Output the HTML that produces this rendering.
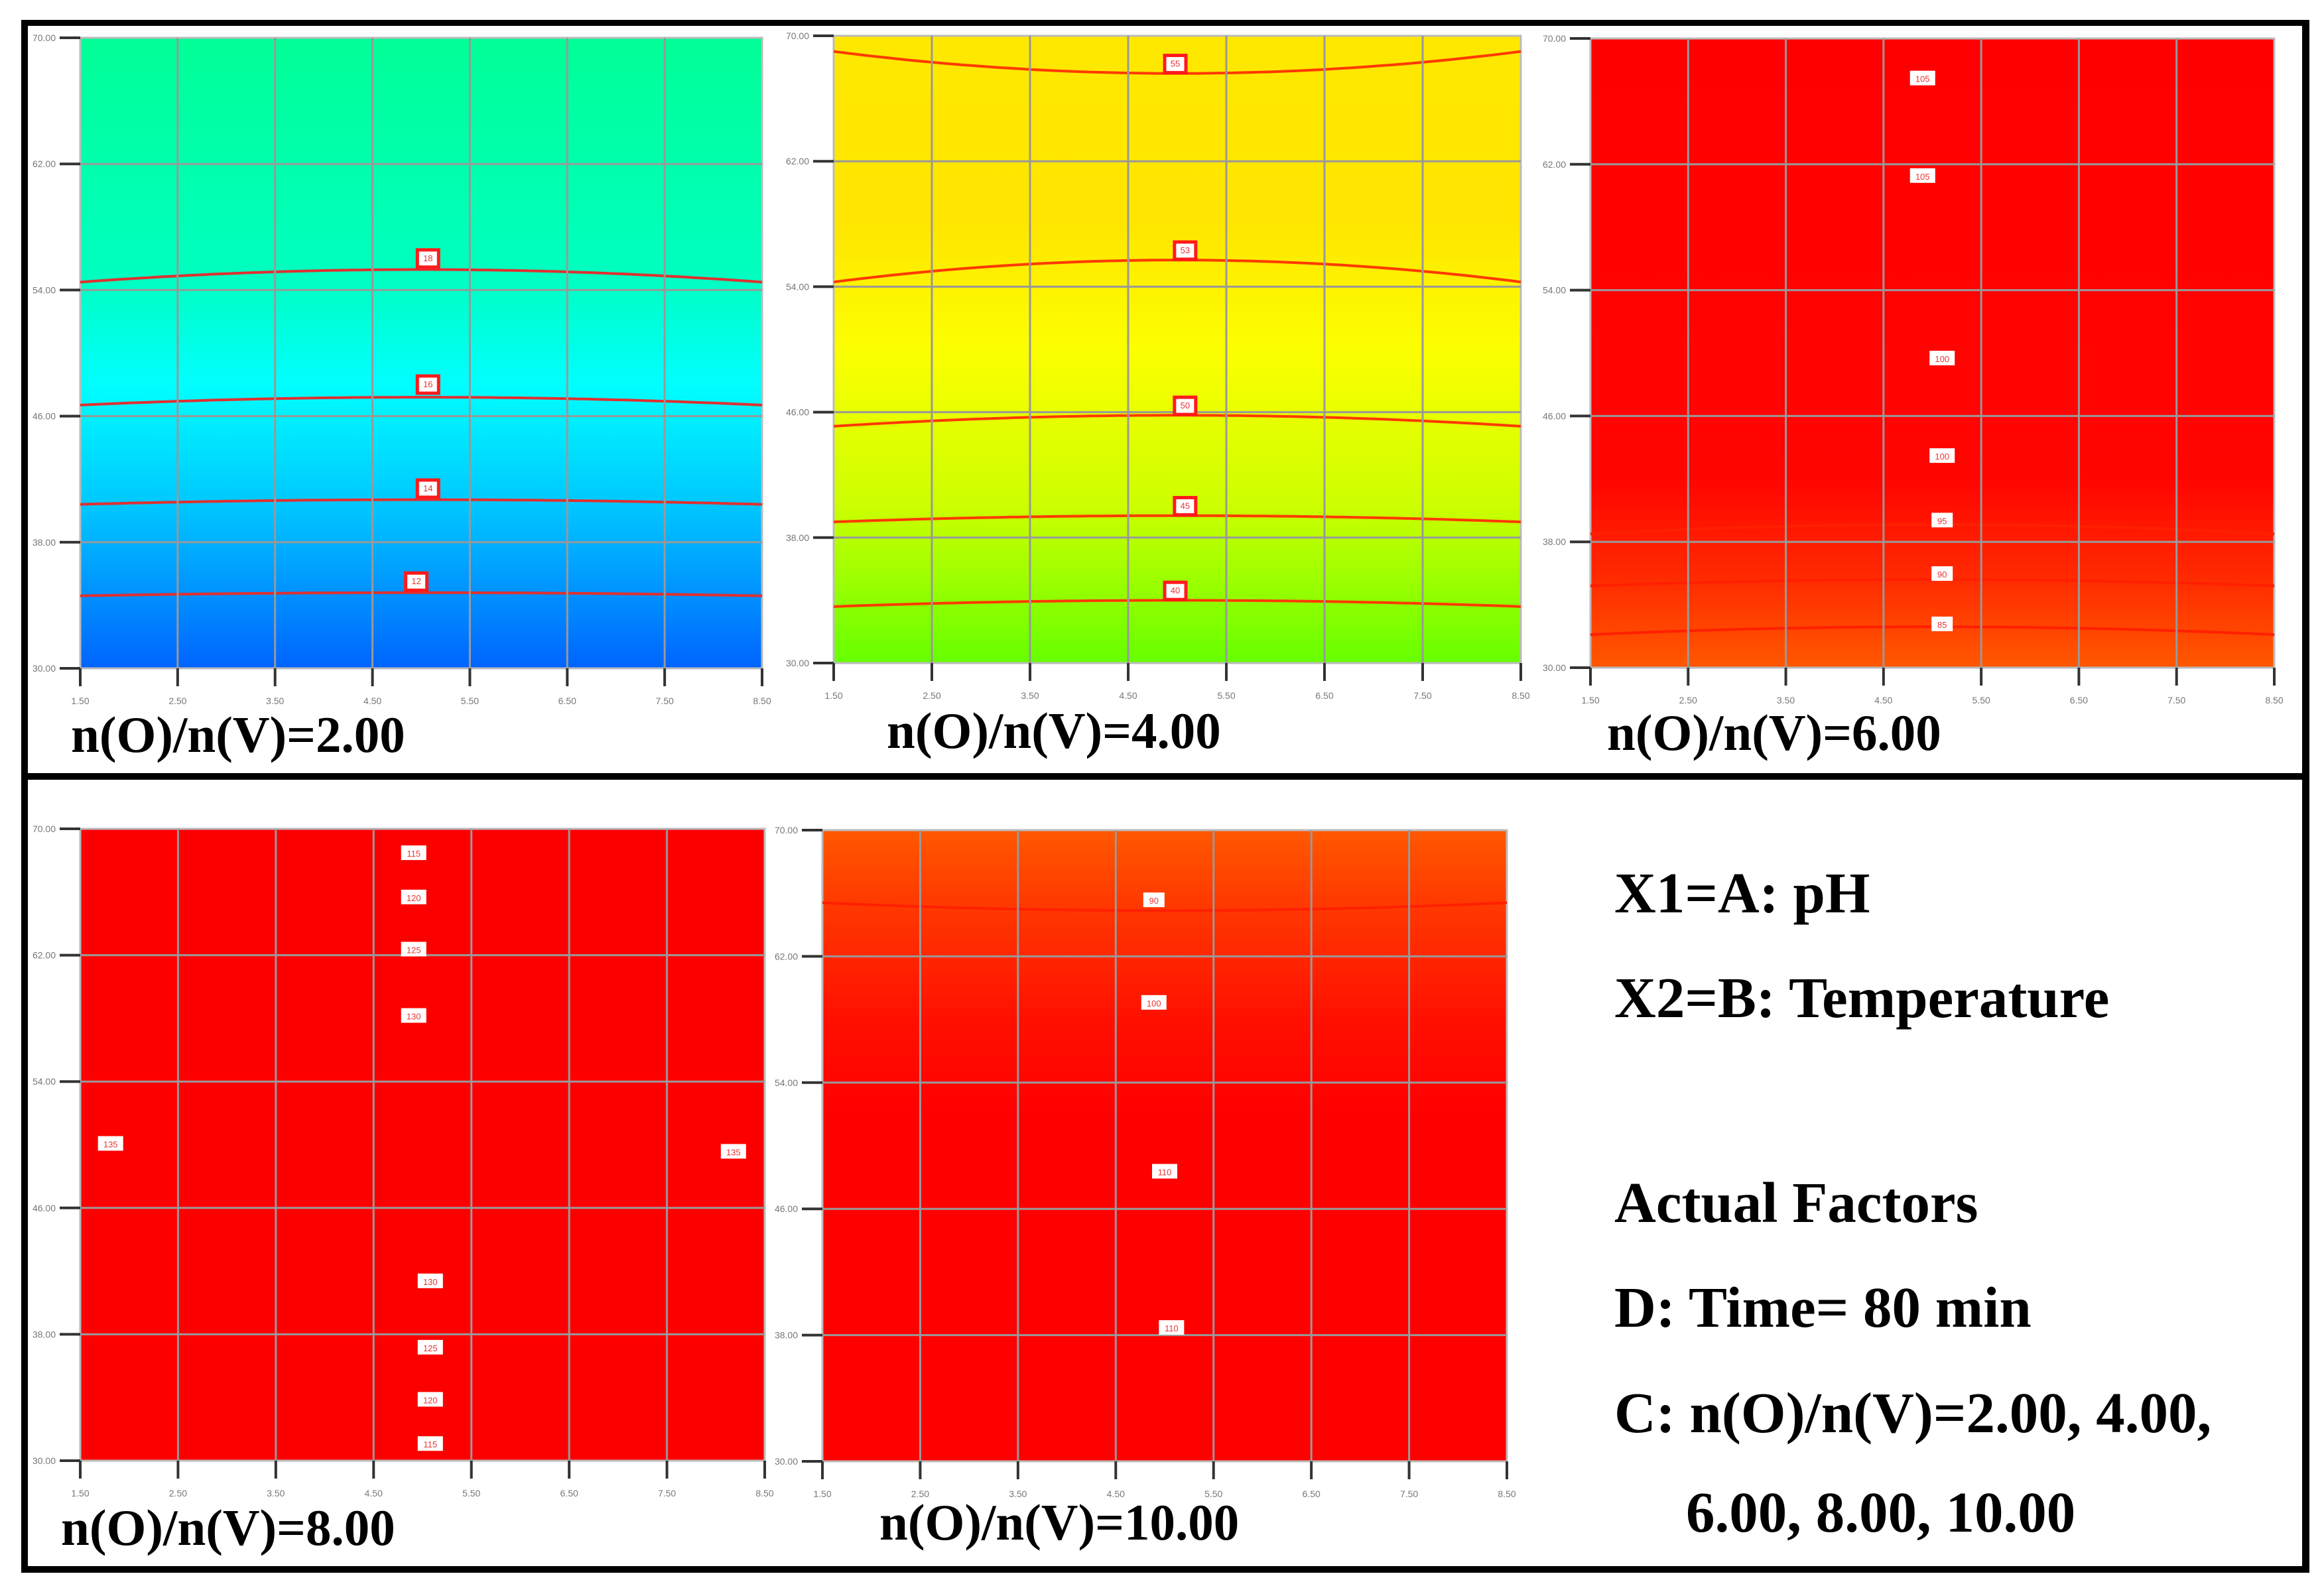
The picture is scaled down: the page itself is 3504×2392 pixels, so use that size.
<!DOCTYPE html>
<html>
<head>
<meta charset="utf-8">
<style>
html,body{margin:0;padding:0;background:#fff;}
svg{display:block;}
.ttl{font-family:"Liberation Serif",serif;font-weight:bold;fill:#000;}
.tk{font-family:"Liberation Sans",sans-serif;fill:#777;font-size:14px;}
.cl{font-family:"Liberation Sans",sans-serif;font-size:13px;}
</style>
</head>
<body>
<svg id="fig" width="3504" height="2392" viewBox="0 0 3504 2392" xmlns="http://www.w3.org/2000/svg">
<defs>
<linearGradient id="g1" x1="0" y1="0" x2="0" y2="1">
<stop offset="0" stop-color="#00ff96"/><stop offset="0.38" stop-color="#00ffc0"/><stop offset="0.55" stop-color="#00ffff"/><stop offset="0.75" stop-color="#00c4ff"/><stop offset="1" stop-color="#0064ff"/>
</linearGradient>
<linearGradient id="g2" x1="0" y1="0" x2="0" y2="1">
<stop offset="0" stop-color="#ffe800"/><stop offset="0.3" stop-color="#ffe600"/><stop offset="0.5" stop-color="#fcff00"/><stop offset="0.75" stop-color="#ccff00"/><stop offset="1" stop-color="#66ff00"/>
</linearGradient>
<linearGradient id="g3" x1="0" y1="0" x2="0" y2="1">
<stop offset="0" stop-color="#ff0000"/><stop offset="0.7" stop-color="#ff0500"/><stop offset="0.85" stop-color="#ff2800"/><stop offset="1" stop-color="#ff5800"/>
</linearGradient>
<linearGradient id="g4" x1="0" y1="0" x2="0" y2="1">
<stop offset="0" stop-color="#fc0000"/><stop offset="1" stop-color="#fc0000"/>
</linearGradient>
<linearGradient id="g5" x1="0" y1="0" x2="0" y2="1">
<stop offset="0" stop-color="#ff5800"/><stop offset="0.12" stop-color="#ff3800"/><stop offset="0.3" stop-color="#ff1000"/><stop offset="0.45" stop-color="#ff0000"/><stop offset="1" stop-color="#fd0000"/>
</linearGradient>
</defs>
<g id="frame">
<rect x="32" y="30" width="3450" height="9" fill="#000"/>
<rect x="32" y="30" width="10" height="2342" fill="#000"/>
<rect x="3471" y="30" width="11" height="2342" fill="#000"/>
<rect x="32" y="1166" width="3450" height="10" fill="#000"/>
<rect x="32" y="2362" width="3450" height="10" fill="#000"/>
</g>
<g id="panels"></g>
<g id="legend">
<text class="ttl" x="2434" y="1376" font-size="87">X1=A: pH</text>
<text class="ttl" x="2434" y="1534" font-size="87">X2=B: Temperature</text>
<text class="ttl" x="2434" y="1843" font-size="87">Actual Factors</text>
<text class="ttl" x="2434" y="2001" font-size="87">D: Time= 80 min</text>
<text class="ttl" x="2434" y="2160" font-size="87">C: n(O)/n(V)=2.00, 4.00,</text>
<text class="ttl" x="2542" y="2310" font-size="87">6.00, 8.00, 10.00</text>
</g>
</svg>
<script>
// Axis data
const xTicks = [1.5, 2.5, 3.5, 4.5, 5.5, 6.5, 7.5, 8.5];
const xTickLabels = ["1.50","2.50","3.50","4.50","5.50","6.50","7.50","8.50"];
const yTicks = [30, 38, 46, 54, 62, 70];
const yTickLabels = ["30.00","38.00","46.00","54.00","62.00","70.00"];
const panelTitles = ["n(O)/n(V)=2.00","n(O)/n(V)=4.00","n(O)/n(V)=6.00","n(O)/n(V)=8.00","n(O)/n(V)=10.00"];
// Contour lines: temperature at pH centre (5.0) and at pH edges
const c1Center = [55.3, 47.2, 40.7, 34.8];
const c1Edge = [54.5, 46.7, 40.4, 34.6];
const c2Center = [67.6, 55.7, 45.8, 39.4, 34.0];
const c2Edge = [69.0, 54.3, 45.1, 39.0, 33.6];
const c3Center = [39.1, 35.6, 32.6];
const c3Edge = [38.5, 35.2, 32.1];
const c4Center = [];
const c4Edge = [];
const c5Center = [64.9];
const c5Edge = [65.4];
// Contour value labels: text, pH, temperature
const l1Text = ["18","16","14","12"];
const l1X = [5.07, 5.07, 5.07, 4.95];
const l1Y = [56.0, 48.0, 41.4, 35.5];
const l2Text = ["55","53","50","45","40"];
const l2X = [4.98, 5.08, 5.08, 5.08, 4.98];
const l2Y = [68.2, 56.3, 46.4, 40.0, 34.6];
const l3Text = ["105","105","100","100","95","90","85"];
const l3X = [4.9, 4.9, 5.1, 5.1, 5.1, 5.1, 5.1];
const l3Y = [67.4, 61.2, 49.6, 43.4, 39.3, 35.9, 32.7];
const l4Text = ["115","120","125","130","135","135","130","125","120","115"];
const l4X = [4.91, 4.91, 4.91, 4.91, 1.81, 8.18, 5.08, 5.08, 5.08, 5.08];
const l4Y = [68.4, 65.6, 62.3, 58.1, 50.0, 49.5, 41.3, 37.1, 33.8, 31.0];
const l5Text = ["90","100","110","110"];
const l5X = [4.89, 4.89, 5.0, 5.07];
const l5Y = [65.5, 59.0, 48.3, 38.4];

const panels = [
 {name:"ratio-2", L:121, R:1149, T:57, B:1008, fill:"url(#g1)", cc:c1Center, ce:c1Edge, lt:l1Text, lx:l1X, ly:l1Y, box:"red", lc:"#e03030", tx:107, ty:1134, title:panelTitles[0]},
 {name:"ratio-4", L:1257, R:2293, T:54, B:1000, fill:"url(#g2)", cc:c2Center, ce:c2Edge, lt:l2Text, lx:l2X, ly:l2Y, box:"red", lc:"#ff3a00", tx:1337, ty:1128, title:panelTitles[1]},
 {name:"ratio-6", L:2398, R:3429, T:58, B:1007, fill:"url(#g3)", cc:c3Center, ce:c3Edge, lt:l3Text, lx:l3X, ly:l3Y, box:"white", lc:"#ff2000", tx:2423, ty:1131, title:panelTitles[2]},
 {name:"ratio-8", L:121, R:1153, T:1250, B:2203, fill:"url(#g4)", cc:c4Center, ce:c4Edge, lt:l4Text, lx:l4X, ly:l4Y, box:"white", lc:"#ff2000", tx:92, ty:2330, title:panelTitles[3]},
 {name:"ratio-10", L:1240, R:2272, T:1252, B:2204, fill:"url(#g5)", cc:c5Center, ce:c5Edge, lt:l5Text, lx:l5X, ly:l5Y, box:"white", lc:"#ff2000", tx:1326, ty:2322, title:panelTitles[4]}
];
const NS = "http://www.w3.org/2000/svg";
const root = document.getElementById('panels');
function mk(tag, attrs, parent){
  const e = document.createElementNS(NS, tag);
  for (const k in attrs) e.setAttribute(k, attrs[k]);
  parent.appendChild(e);
  return e;
}
panels.forEach(p => {
  const xs = v => p.L + (v - xTicks[0]) / (xTicks[xTicks.length-1] - xTicks[0]) * (p.R - p.L);
  const ys = v => p.B - (v - yTicks[0]) / (yTicks[yTicks.length-1] - yTicks[0]) * (p.B - p.T);
  const g = mk('g', {}, root);
  
  
  const bg = mk('rect', {x:p.L, y:p.T, width:p.R-p.L, height:p.B-p.T, fill:p.fill, stroke:'#bbb', 'stroke-width':3}, g);
  
  
  p.cc.forEach((c, i) => {
    const e = p.ce[i];
    let d = '';
    for (let k = 0; k <= 70; k++) {
      const xv = xTicks[0] + k * 0.1;
      const t = (xv - 5.0) / 3.5;
      const yv = e + (c - e) * (1 - t * t);
      d += (k ? 'L' : 'M') + xs(xv).toFixed(1) + ',' + ys(yv).toFixed(1);
    }
    const ln = mk('path', {d:d, fill:'none', stroke:p.lc, 'stroke-width':4}, g);
    
    
  });
  xTicks.forEach((v, i) => {
    const x = xs(v);
    if (i > 0 && i < xTicks.length-1) {
      const gl = mk('line', {x1:x, x2:x, y1:p.T, y2:p.B, stroke:'#999', 'stroke-width':3}, g);
      
      
    }
    const tk = mk('line', {x1:x, x2:x, y1:p.B, y2:p.B+27, stroke:'#333', 'stroke-width':4}, g);
    
    
    const tl = mk('text', {x:x, y:p.B+54, 'text-anchor':'middle', class:'tk'}, g);
    tl.textContent = xTickLabels[i];
    
    
  });
  yTicks.forEach((v, i) => {
    const y = ys(v);
    if (i > 0 && i < yTicks.length-1) {
      const gl = mk('line', {x1:p.L, x2:p.R, y1:y, y2:y, stroke:'#999', 'stroke-width':3}, g);
      
      
    }
    const tk = mk('line', {x1:p.L-31, x2:p.L, y1:y, y2:y, stroke:'#333', 'stroke-width':4}, g);
    
    
    const tl = mk('text', {x:p.L-37, y:y+5, 'text-anchor':'end', class:'tk'}, g);
    tl.textContent = yTickLabels[i];
    
    
  });
  p.lt.forEach((t, i) => {
    const cx = xs(p.lx[i]), cy = ys(p.ly[i]);
    const w = t.length > 2 ? 38 : 32, h = 26;
    const lg = mk('g', {}, g);
    
    
    if (p.box === 'red') {
      mk('rect', {x:cx-w/2, y:cy-h/2, width:w, height:h, fill:'#fff', stroke:'#ff1a1a', 'stroke-width':5}, lg);
    } else {
      mk('rect', {x:cx-w/2, y:cy-h/2, width:w, height:h-4, fill:'#fff'}, lg);
    }
    const tt = mk('text', {x:cx, y:cy+4, 'text-anchor':'middle', class:'cl', fill:'#e33'}, lg);
    tt.textContent = t;
  });
  const ti = mk('text', {x:p.tx, y:p.ty, class:'ttl', 'font-size':77}, g);
  ti.textContent = p.title;
  
  
});
</script>
</body>
</html>
